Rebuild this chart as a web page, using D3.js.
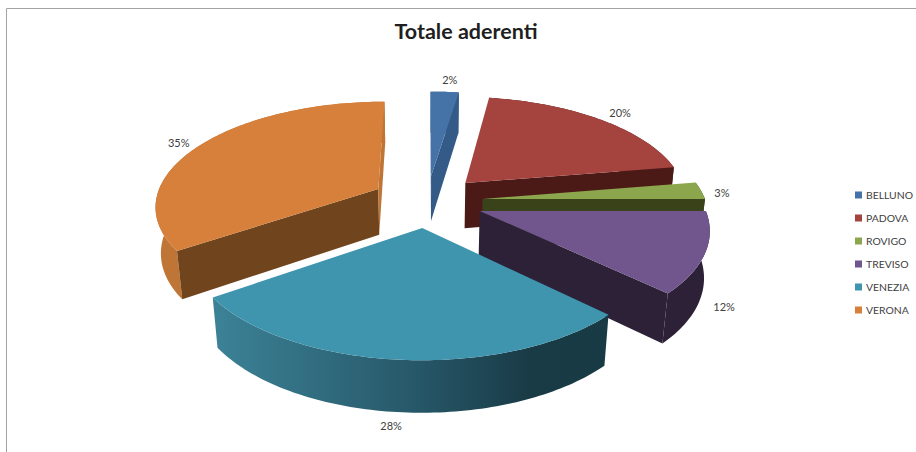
<!DOCTYPE html>
<html>
<head>
<meta charset="utf-8">
<title>Totale aderenti</title>
<script src="https://cdn.jsdelivr.net/npm/d3@7"></script>
<style>
    body { margin: 0; background: #fff; }
    svg { display: block; }
    text { font-family: Lato, "Open Sans", sans-serif; fill: #404040; }
    .title { font-size: 21.5px; font-weight: 700; fill: #1f1f1f; }
    .pct { font-size: 11px; }
    .legend-label { font-size: 10.4px; }
</style>
</head>
<body>
<div id="chart"></div>
<script>
var categories = ["BELLUNO", "PADOVA", "ROVIGO", "TREVISO", "VENEZIA", "VERONA"];
var shares = [2.4, 20.0, 2.6, 12.2, 28.2, 34.6];

var topColors = ["#4573a7", "#a5433f", "#8ba64c", "#71558d", "#3f95ae", "#d6803b"];
var rimColors = ["#345a88", "#4b1a17", "#3a4219", "#2d2138", "url(#rim-venezia)", "#bf7535"];
var cutColors = ["#345a88", "#4b1a17", "#3a4219", "#2d2138", "#17373f", "#70451d"];

var width = 916, height = 452;

// projection of the tilted disc
var cx = 427, cy = 201;
var radius = 223, explode = 56, depth = 47;
var tilt = 0.465, persp = 1500, perspZ = 2350;

// back to front, the way the slices overlap
var drawOrder = [0, 5, 1, 2, 3, 4];

// label shift from the rim point at the middle of the slice
var labelShift = [[5, -12], [20, -6], [21, 3], [19, 54], [-8, 66], [-21, -2]];

var svg = d3.select("#chart").append("svg")
    .attr("width", width)
    .attr("height", height);

svg.append("path")
    .attr("d", d3.line()([[6.5, height], [6.5, 8.5], [width, 8.5]]))
    .attr("fill", "none")
    .attr("stroke", "#a3a3a3");

var pie = d3.pie().sort(null);
var arcs = pie(shares);

var line = d3.line();

function project(x, y, z) {
    var w = 1 + y / persp + z / perspZ;
    return [cx + x / w, cy + (z - tilt * y) / w];
}

function slicePoint(d, angle, r, z) {
    var mid = (d.startAngle + d.endAngle) / 2;
    return project(
        explode * Math.sin(mid) + r * Math.sin(angle),
        explode * Math.cos(mid) + r * Math.cos(angle),
        z
    );
}

function rimPoints(d, z) {
    var n = Math.ceil((d.endAngle - d.startAngle) / 0.02);
    return d3.range(n + 1).map(function(i) {
        return slicePoint(d, d.startAngle + (d.endAngle - d.startAngle) * i / n, radius, z);
    });
}

function cutFace(d, angle) {
    return [
        slicePoint(d, angle, 0, 0),
        slicePoint(d, angle, radius, 0),
        slicePoint(d, angle, radius, depth),
        slicePoint(d, angle, 0, depth)
    ];
}

var rimTop = rimPoints(arcs[4], 0);
var defs = svg.append("defs");
var rimGradient = defs.append("linearGradient")
    .attr("id", "rim-venezia")
    .attr("gradientUnits", "userSpaceOnUse")
    .attr("x1", rimTop[rimTop.length - 1][0])
    .attr("x2", rimTop[0][0])
    .attr("y1", 0)
    .attr("y2", 0);
rimGradient.selectAll("stop")
    .data([["0", "#3c8297"], ["0.5", "#27596a"], ["0.8", "#193b46"], ["1", "#183a45"]])
    .enter().append("stop")
    .attr("offset", function(d) { return d[0]; })
    .attr("stop-color", function(d) { return d[1]; });

var slices = svg.selectAll(".slice")
    .data(drawOrder.map(function(i) { return arcs[i]; }))
    .enter().append("g")
    .attr("class", "slice");

slices.each(function(d) {
    var g = d3.select(this);
    var i = d.index;

    // outer wall first, the top hides whatever faces away
    var upper = rimPoints(d, 0);
    var lower = rimPoints(d, depth).reverse();
    g.append("path")
        .attr("d", line(upper.concat(lower)) + "Z")
        .attr("fill", rimColors[i]);

    // cut faces, only the ones turned to the viewer
    var startFace = cutFace(d, d.startAngle);
    if (d3.polygonArea(startFace) > 0) {
        g.append("path").attr("d", line(startFace) + "Z").attr("fill", cutColors[i]);
    }
    var endFace = cutFace(d, d.endAngle);
    if (d3.polygonArea(endFace) < 0) {
        g.append("path")
            .attr("d", line(endFace) + "Z")
            .attr("fill", i === 5 ? rimColors[i] : cutColors[i]);
    }

    var top = [slicePoint(d, d.startAngle, 0, 0)].concat(upper);
    g.append("path")
        .attr("d", line(top) + "Z")
        .attr("fill", topColors[i]);
});

svg.selectAll(".pct")
    .data(arcs)
    .enter().append("text")
    .attr("class", "pct")
    .attr("text-anchor", "middle")
    .attr("x", function(d) {
        return slicePoint(d, (d.startAngle + d.endAngle) / 2, radius, 0)[0] + labelShift[d.index][0];
    })
    .attr("y", function(d) {
        return slicePoint(d, (d.startAngle + d.endAngle) / 2, radius, 0)[1] + labelShift[d.index][1];
    })
    .attr("dy", "0.35em")
    .text(function(d) { return Math.round(d.data) + "%"; });

svg.append("text")
    .attr("class", "title")
    .attr("x", 466)
    .attr("y", 39)
    .attr("text-anchor", "middle")
    .text("Totale aderenti");

var legendY = d3.scalePoint().domain(categories).range([195, 310]);

var legend = svg.selectAll(".legend")
    .data(categories)
    .enter().append("g")
    .attr("class", "legend")
    .attr("transform", function(d) { return "translate(855," + legendY(d) + ")"; });

legend.append("rect")
    .attr("y", -3.5)
    .attr("width", 7)
    .attr("height", 7)
    .attr("fill", function(d, i) { return topColors[i]; });

legend.append("text")
    .attr("class", "legend-label")
    .attr("x", 11)
    .attr("dy", "0.35em")
    .text(function(d) { return d; });
</script>
</body>
</html>
